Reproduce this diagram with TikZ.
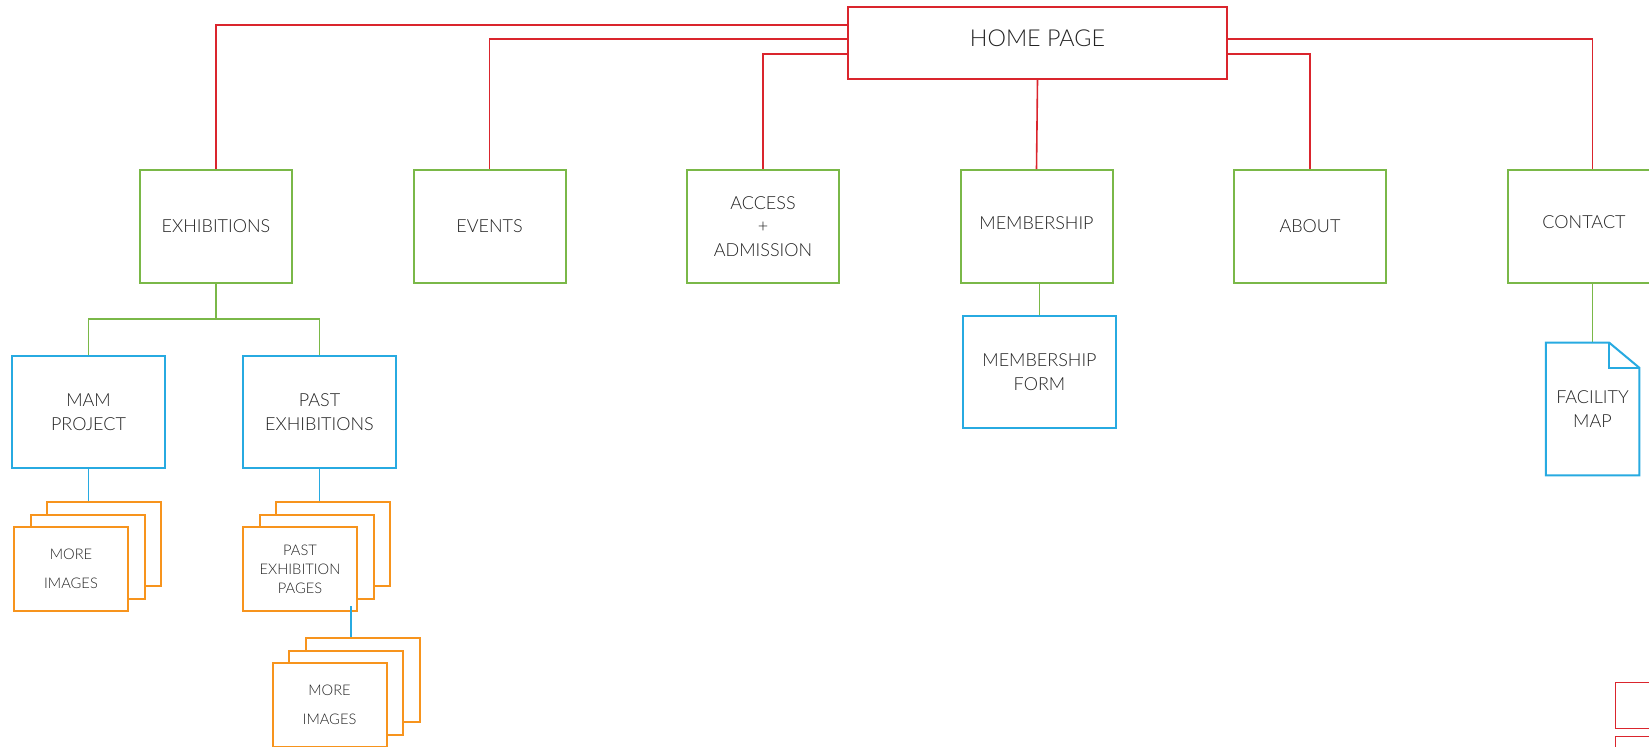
\documentclass[tikz,border=0pt]{standalone}
\usepackage{fontspec}
\setmainfont{Lato}[UprightFont=* Light]
\usetikzlibrary{calc}
\definecolor{mapred}{RGB}{218,37,45}
\definecolor{mapgreen}{RGB}{122,184,72}
\definecolor{mapblue}{RGB}{39,170,225}
\definecolor{maporange}{RGB}{247,148,29}
\definecolor{maptext}{RGB}{35,35,35}
\newcommand\U{0.75pt}
\tikzset{
  mapbox/.style={draw, fill=white, line width=1.5pt, text=maptext, align=center, inner sep=0pt},
  topbox/.style={mapbox, draw=mapred, minimum width=379*\U, minimum height=72*\U, font=\fontsize{17.5}{21}\selectfont},
  secbox/.style={mapbox, draw=mapgreen, minimum width=152*\U, minimum height=113*\U, font=\fontsize{13.5}{17.6}\selectfont},
  subbox/.style={mapbox, draw=mapblue, minimum width=153*\U, minimum height=112*\U, font=\fontsize{13.5}{17.6}\selectfont},
  pagebox/.style={mapbox, draw=maporange, minimum width=114*\U, minimum height=84*\U, font=\fontsize{11}{14.25}\selectfont},
  rline/.style={draw=mapred, line width=1.2pt},
  gline/.style={draw=mapgreen, line width=1.2pt},
  bline/.style={draw=mapblue, line width=1.2pt},
}

\begin{document}
\begin{tikzpicture}[x=\U, y=-\U]
  \useasboundingbox (0,0) rectangle (1649,746);

  \newcommand\pagestack[4]{%
    \node[pagebox] (#1c) at (#2+33,#3-25) {};
    \node[pagebox] (#1b) at (#2+16.5,#3-12.5) {};
    \node[pagebox] (#1) at (#2,#3) {#4};
  }

  \node[topbox, text depth=7.5pt] (home) at (1037.5,43) {HOME PAGE};

  \node[secbox] (exh) at (216,226.5) {EXHIBITIONS};
  \node[secbox] (events) at (489.5,226.5) {EVENTS};
  \node[secbox] (access) at (763,226.5) {ACCESS\\+\\ADMISSION};
  \node[secbox, text depth=4.8pt] (member) at (1036.5,226.5) {MEMBERSHIP};
  \node[secbox] (about) at (1310,226.5) {ABOUT};
  \node[secbox, text depth=6.3pt] (contact) at (1584,226.5) {CONTACT};

  \node[subbox] (mam) at (88.5,412) {MAM\\PROJECT};
  \node[subbox] (past) at (319.5,412) {PAST\\EXHIBITIONS};
  \node[subbox] (form) at (1039.5,372) {MEMBERSHIP\\FORM};
  \node[text=maptext, align=center, inner sep=0pt, minimum width=93*\U, minimum height=132*\U,
        font=\fontsize{13.5}{17.6}\selectfont] (fac) at (1592.5,409) {FACILITY\\MAP};

  \pagestack{mamimg}{71}{569}{MORE\\[7.5pt]IMAGES}
  \pagestack{pastpg}{300}{569}{PAST\\EXHIBITION\\PAGES}
  \pagestack{moreimg}{329.5}{705}{MORE\\[7.5pt]IMAGES}

  \node[mapbox, draw=mapred, line width=1.1pt, minimum width=60*\U, minimum height=46*\U, anchor=north west] (keya) at (1615,682) {};
  \node[mapbox, draw=mapred, line width=1.1pt, minimum width=60*\U, minimum height=46*\U, anchor=north west] (keyb) at (1615,736) {};

  % home page links
  \draw[rline] ($(home.north west)+(0,18.7)$) -| (exh.north);
  \draw[rline] ($(home.north west)+(0,33)$) -| (events.north);
  \draw[rline] ($(home.north west)+(0,47.7)$) -| (access.north);
  \draw[rline] (home.south) -- (member.north);
  \draw[rline] ($(home.north east)+(0,47.7)$) -| (about.north);
  \draw[rline] ($(home.north east)+(0,33)$) -| (fac.north |- contact.north);

  \coordinate (fork) at (216,319);
  \draw[gline] (exh.south) -- (fork);
  \draw[gline] (mam.north) |- (fork) -| (past.north);
  \draw[gline] (form.north) -- (form.north |- member.south);
  \draw[gline] (contact.south -| fac.north) -- (fac.north);

  \draw[bline] (mam.south) -- (mam.south |- mamimgc.north);
  \draw[bline] (past.south) -- (past.south |- pastpgc.north);
  \coordinate (tap) at ($(pastpg.south east)+(-7,-6)$);
  \draw[bline] (tap) -- (tap |- moreimgc.north);

  % facility map sheet
  \draw[mapblue, line width=1.5pt] (fac.north west) -- ($(fac.north east)+(-30,0)$) coordinate (fold)
    -- ($(fac.north east)+(0,25)$) -- (fac.south east) -- (fac.south west) -- cycle;
  \draw[mapblue, line width=1.5pt] (fold) |- ($(fac.north east)+(0,25)$);
\end{tikzpicture}
\end{document}
